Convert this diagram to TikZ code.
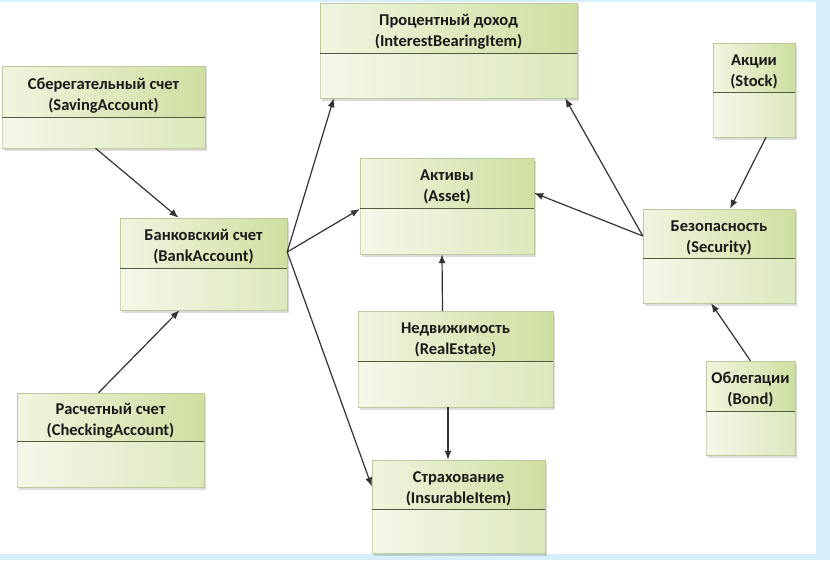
\documentclass[tikz,border=0pt]{standalone}
\usepackage{fontspec}
\setmainfont{Carlito}
\usetikzlibrary{arrows.meta,fit}
\definecolor{framebl}{HTML}{D6F0FA}
\definecolor{boxL}{HTML}{F0F5E0}
\definecolor{boxR}{HTML}{CFDFA0}
\definecolor{boxEdge}{HTML}{BCC99A}
\definecolor{divline}{HTML}{4F5A3E}
\definecolor{arrowc}{HTML}{333333}
\tikzset{
  boxshade/.style={left color=boxL, right color=boxR, draw=boxEdge, line width=0.6pt},
  boxshadow/.style={fill=black, opacity=0.14},
  lowshade/.style={fill=white, opacity=0.3},
  divider/.style={draw=divline, line width=1pt},
  boxtext/.style={font=\fontsize{16.5}{21}\selectfont\bfseries, text=black!90, align=center, inner sep=0pt},
  assoc/.style={draw=arrowc, line width=1.2pt, -{Latex[length=9pt,width=7pt]}},
}
\newcommand\umlbox[8]{%
  \path[boxshadow] (#2+2,#3+3) rectangle (#4+2,#5+3);
  \path[boxshade] (#2,#3) rectangle (#4,#5);
  \path[lowshade] (#2,#6) rectangle (#4,#5);
  \draw[divider] (#2,#6) -- (#4,#6);
  \node[fit={(#2,#3)(#4,#5)}, inner sep=0pt] (#1) {};
  \node[boxtext] (#1-t) at ({(#2+#4)/2},{(#3+#6)/2+4}) {#7\\#8};
}
\begin{document}
\begin{tikzpicture}[x=1pt,y=-1pt]
\useasboundingbox (0,0) rectangle (830,560);
\fill[white] (0,0) rectangle (830,560);
% frame
\fill[framebl] (0,0) rectangle (830,2);
\fill[framebl] (816,0) rectangle (830,560);
\fill[framebl] (0,554) rectangle (830,560);

\umlbox{interest}{320}{3}{577}{98}{53}{Процентный доход}{(InterestBearingItem)}
\umlbox{save}{2}{66}{205}{148}{117}{Сберегательный счет}{(SavingAccount)}
\umlbox{asset}{360}{158}{534}{254}{208}{Активы}{(Asset)}
\umlbox{bank}{120}{218}{287}{310}{268}{Банковский счет}{(BankAccount)}
\umlbox{stock}{713}{43}{795}{137}{92}{Акции}{(Stock)}
\umlbox{sec}{643}{209}{795}{303}{258}{Безопасность}{(Security)}
\umlbox{real}{358}{311}{553}{407}{361}{Недвижимость}{(RealEstate)}
\umlbox{check}{17}{393}{204}{487}{441}{Расчетный счет}{(CheckingAccount)}
\umlbox{bond}{706}{361}{795}{455}{411}{Облегации}{(Bond)}
\umlbox{insur}{372}{460}{545}{553}{509}{Страхование}{(InsurableItem)}

% connectors
\draw[assoc] ([xshift=-8pt]save.south) -- ([xshift=-25pt]bank.north);
\draw[assoc] ([xshift=-12pt]check.north) -- ([xshift=-24pt]bank.south);
\draw[assoc] ([yshift=12pt]bank.east) -- ([xshift=14pt]interest.south west);
\draw[assoc] ([yshift=12pt]bank.east) -- ([yshift=-3pt]asset.west);
\draw[assoc] ([yshift=12pt]bank.east) -- ([yshift=20pt]insur.west);
\draw[assoc] ([xshift=-13pt]real.north) -- ([xshift=-5pt]asset.south);
\draw[assoc] ([xshift=-7.5pt]real.south) -- ([xshift=-10.5pt]insur.north);
\draw[assoc] ([yshift=20pt]sec.west) -- ([xshift=-12pt]interest.south east);
\draw[assoc] ([yshift=20pt]sec.west) -- ([yshift=13pt]asset.east);
\draw[assoc] ([xshift=12pt]stock.south) -- ([xshift=11pt]sec.north);
\draw[assoc] ([xshift=0pt]bond.north) -- ([xshift=-8pt]sec.south);
\end{tikzpicture}
\end{document}
